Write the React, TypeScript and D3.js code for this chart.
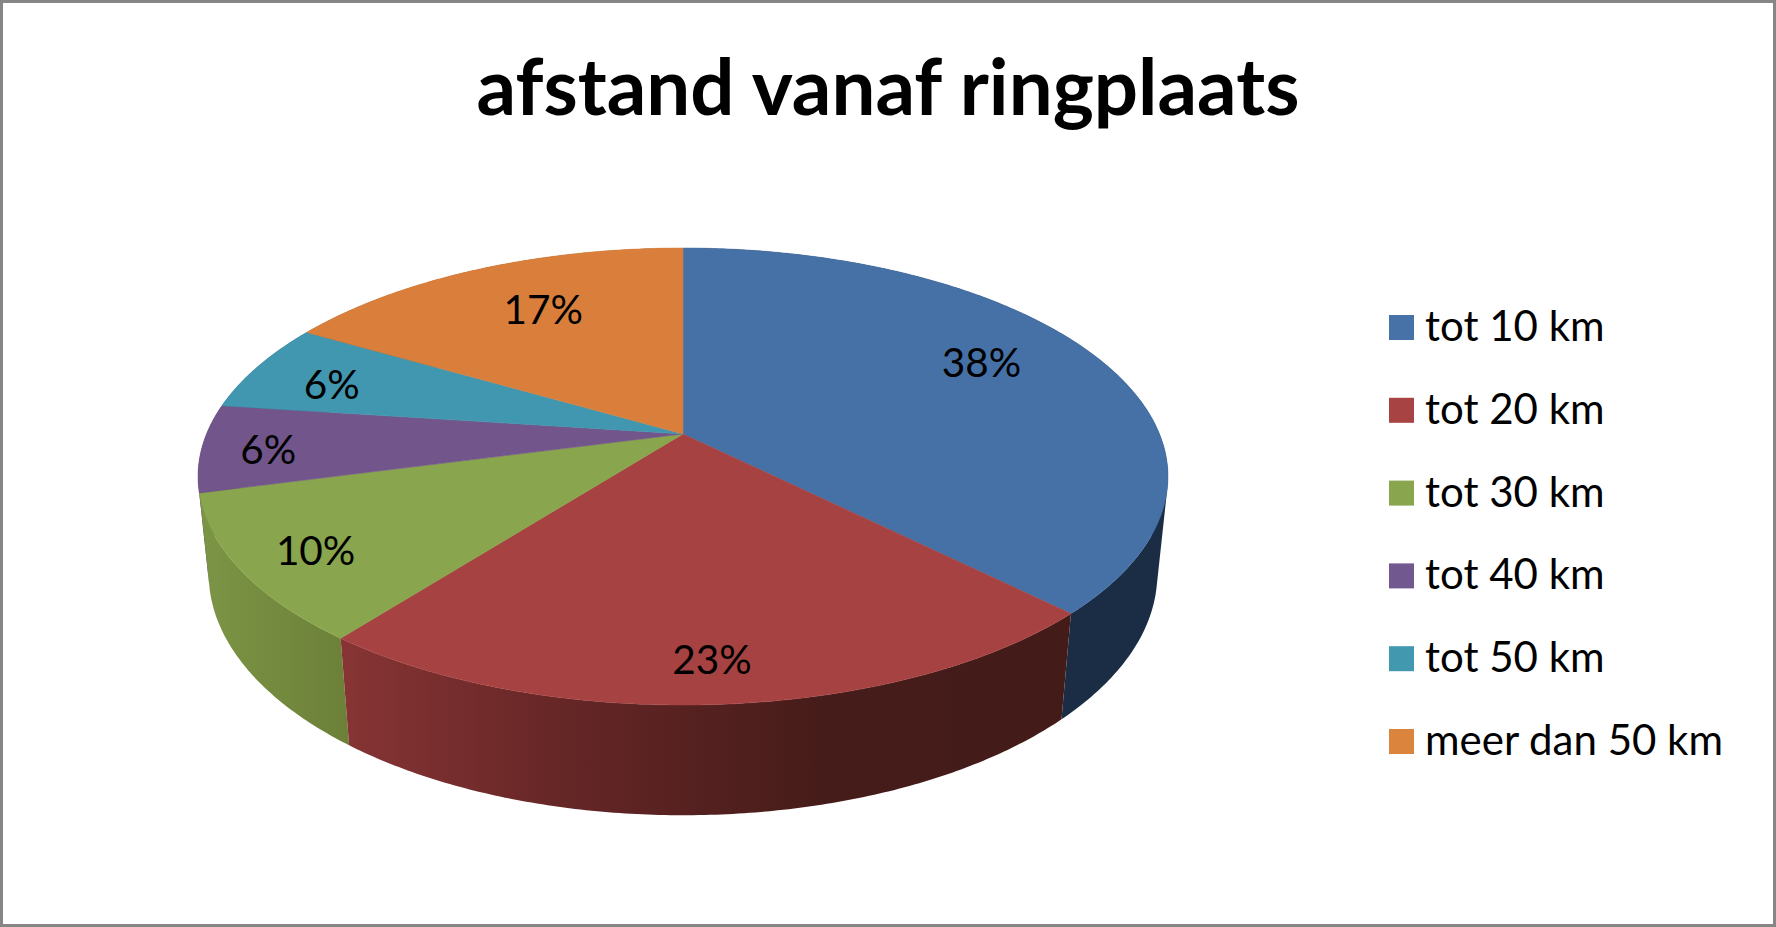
import React from 'react';
import * as d3 from 'd3';

const title = 'afstand vanaf ringplaats';
const categories = ['tot 10 km', 'tot 20 km', 'tot 30 km', 'tot 40 km', 'tot 50 km', 'meer dan 50 km'];
const shares = [37.5, 23, 10.4, 6.2, 6.3, 16.6];
const colors = ['#4672a7', '#a74443', '#89a54e', '#71588f', '#4198af', '#db843d'];
const topColors = ['#4671a6', '#a64241', '#89a54d', '#71558b', '#4197af', '#d97f3b'];

// wall shading, left to right
const wallStops = [
  ['#1a2d45', '#1a2d45'],
  ['#873434', '#632525', '#451c19', '#431b18'],
  ['#7c9545', '#6c8038'],
  ['#4a3a5e', '#4a3a5e'],
  ['#2b6473', '#2b6473'],
  ['#8f5627', '#8f5627'],
];

// label placement inside each slice
const labelRadius = [0.752, 0.86, 0.85, 0.862, 0.805, 0.71];
const labelTurn = [-5, 0.2, -0.8, -1, -1.8, 2.4];

const width = 1776;
const height = 927;

// perspective of the tilted disc
const apex = { x: 683, y: 434 };
const scaleU = 476.5;
const scaleV = 220.6;
const tilt = 0.186;
const depth = 98;
const depthShrink = 0.0217;

const project = (angle: number, r: number, z: number): [number, number] => {
  const u = Math.sin(angle) * r;
  const v = -Math.cos(angle) * r;
  const w = 1 - tilt * v + depthShrink * z;
  return [apex.x + (scaleU * u) / w, apex.y + (scaleV * v + depth * z) / w];
};

const arcPoints = (a0: number, a1: number, z: number) => {
  const steps = Math.max(2, Math.ceil((a1 - a0) / 0.01));
  return d3.range(steps + 1).map((i) => project(a0 + ((a1 - a0) * i) / steps, 1, z));
};

const line = d3.line();

// wall of a slice as one path of small quads, all wound the same way
const wallPath = (a0: number, a1: number) => {
  const top = arcPoints(a0, a1, 0);
  const bottom = arcPoints(a0, a1, 1);
  return d3
    .range(top.length - 1)
    .map((i) => {
      const quad = [top[i], top[i + 1], bottom[i + 1], bottom[i]];
      if (d3.polygonArea(quad) < 0) quad.reverse();
      return line(quad) + 'Z';
    })
    .join('');
};

const App: React.FC = () => {
  const slices = d3.pie<number>().sort(null).value((d) => d)(shares);
  // back slices first so the front walls end up on top
  const wallOrder = d3.range(slices.length).sort(
    (a, b) =>
      -Math.cos((slices[a].startAngle + slices[a].endAngle) / 2) -
      -Math.cos((slices[b].startAngle + slices[b].endAngle) / 2),
  );
  const legendY = d3.scalePoint<string>().domain(categories).range([327.5, 741.5]);

  return (
    <svg
      width={width}
      height={height}
      viewBox={`0 0 ${width} ${height}`}
      style={{ position: 'absolute', left: 0, top: 0, display: 'block', background: '#fff' }}
      fontFamily="Lato, 'Open Sans', sans-serif"
    >
      <defs>
        {wallStops.map((stops, i) => (
          <linearGradient key={i} id={`wall-${i}`} x1="0" x2="1" y1="0" y2="0">
            {stops.map((c, j) => (
              <stop key={j} offset={j / (stops.length - 1)} stopColor={c} />
            ))}
          </linearGradient>
        ))}
      </defs>

      <rect x={1.5} y={1.5} width={width - 3} height={height - 3} fill="#fff" stroke="#868686" strokeWidth={3} />

      <text x={888} y={115} textAnchor="middle" fontSize={78} fontWeight={700} fill="#000">
        {title}
      </text>

      {wallOrder.map((i) => (
        <path key={i} d={wallPath(slices[i].startAngle, slices[i].endAngle)} fill={`url(#wall-${i})`} />
      ))}

      {slices.map((s, i) => {
        const pts: [number, number][] = [[apex.x, apex.y], ...arcPoints(s.startAngle, s.endAngle, 0)];
        return <path key={i} d={line(pts) + 'Z'} fill={topColors[i]} stroke={topColors[i]} strokeWidth={0.5} />;
      })}

      {slices.map((s, i) => {
        const mid = (s.startAngle + s.endAngle) / 2 + (labelTurn[i] * Math.PI) / 180;
        const [x, y] = project(mid, labelRadius[i], 0);
        return (
          <text key={i} x={x} y={y} dy="0.36em" textAnchor="middle" fontSize={40.5} fill="#000">
            {Math.round(shares[i])}%
          </text>
        );
      })}

      {categories.map((c, i) => (
        <g key={c} transform={`translate(0,${legendY(c)})`}>
          <rect x={1389} y={-12.5} width={25} height={25} fill={colors[i]} />
          <text x={1425} y={13.5} fontSize={42} fill="#000">
            {c}
          </text>
        </g>
      ))}
    </svg>
  );
};

export default App;
